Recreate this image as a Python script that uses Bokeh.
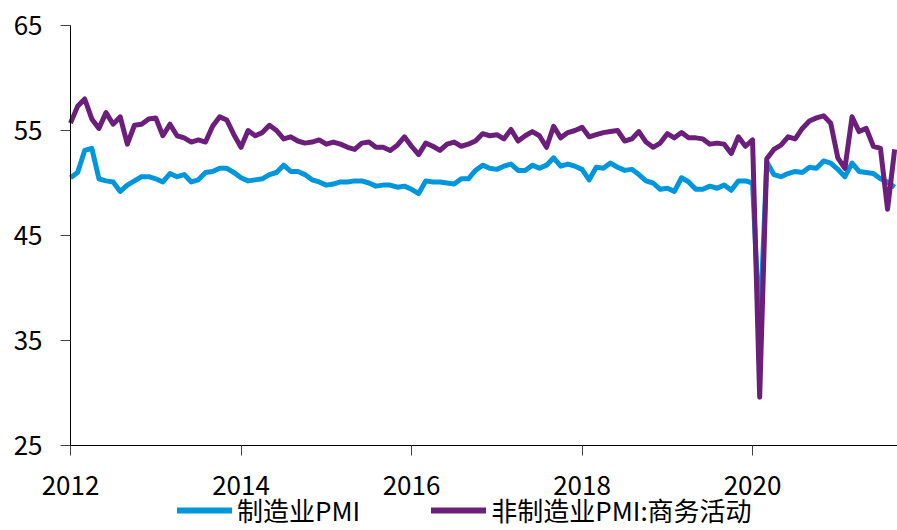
from bokeh.plotting import figure
from bokeh.models import Range1d, FixedTicker, Legend, LegendItem, ColumnDataSource
from bokeh.embed import file_html
from bokeh.resources import INLINE

# Monthly data, Jan 2012 .. Sep 2021
start_year = 2012
manufacturing_pmi = [
    50.5, 51.0, 53.1, 53.3, 50.4, 50.2, 50.1, 49.2, 49.8, 50.2, 50.6, 50.6,  # 2012
    50.4, 50.1, 50.9, 50.6, 50.8, 50.1, 50.3, 51.0, 51.1, 51.4, 51.4, 51.0,  # 2013
    50.5, 50.2, 50.3, 50.4, 50.8, 51.0, 51.7, 51.1, 51.1, 50.8, 50.3, 50.1,  # 2014
    49.8, 49.9, 50.1, 50.1, 50.2, 50.2, 50.0, 49.7, 49.8, 49.8, 49.6, 49.7,  # 2015
    49.4, 49.0, 50.2, 50.1, 50.1, 50.0, 49.9, 50.4, 50.4, 51.2, 51.7, 51.4,  # 2016
    51.3, 51.6, 51.8, 51.2, 51.2, 51.7, 51.4, 51.7, 52.4, 51.6, 51.8, 51.6,  # 2017
    51.3, 50.3, 51.5, 51.4, 51.9, 51.5, 51.2, 51.3, 50.8, 50.2, 50.0, 49.4,  # 2018
    49.5, 49.2, 50.5, 50.1, 49.4, 49.4, 49.7, 49.5, 49.8, 49.3, 50.2, 50.2,  # 2019
    50.0, 35.7, 52.0, 50.8, 50.6, 50.9, 51.1, 51.0, 51.5, 51.4, 52.1, 51.9,  # 2020
    51.3, 50.6, 51.9, 51.1, 51.0, 50.9, 50.4, 50.1, 49.6,                    # 2021
]
non_manufacturing_business = [
    55.7, 57.3, 58.0, 56.1, 55.2, 56.7, 55.6, 56.3, 53.7, 55.5, 55.6, 56.1,  # 2012
    56.2, 54.5, 55.6, 54.5, 54.3, 53.9, 54.1, 53.9, 55.4, 56.3, 56.0, 54.6,  # 2013
    53.4, 55.0, 54.5, 54.8, 55.5, 55.0, 54.2, 54.4, 54.0, 53.8, 53.9, 54.1,  # 2014
    53.7, 53.9, 53.7, 53.4, 53.2, 53.8, 53.9, 53.4, 53.4, 53.1, 53.6, 54.4,  # 2015
    53.5, 52.7, 53.8, 53.5, 53.1, 53.7, 53.9, 53.5, 53.7, 54.0, 54.7, 54.5,  # 2016
    54.6, 54.2, 55.1, 54.0, 54.5, 54.9, 54.5, 53.4, 55.4, 54.3, 54.8, 55.0,  # 2017
    55.3, 54.4, 54.6, 54.8, 54.9, 55.0, 54.0, 54.2, 54.9, 53.9, 53.4, 53.8,  # 2018
    54.7, 54.3, 54.8, 54.3, 54.3, 54.2, 53.7, 53.8, 53.7, 52.8, 54.4, 53.5,  # 2019
    54.1, 29.6, 52.3, 53.2, 53.6, 54.4, 54.2, 55.2, 55.9, 56.2, 56.4, 55.7,  # 2020
    52.4, 51.4, 56.3, 54.9, 55.2, 53.5, 53.3, 47.5, 53.2,                    # 2021
]
series_names = ["制造业PMI", "非制造业PMI:商务活动"]
series_colors = ["#0096DC", "#6C1F7A"]
x_ticks = [2012, 2014, 2016, 2018, 2020]
y_ticks = [25, 35, 45, 55, 65]

months = [start_year + i / 12 for i in range(len(manufacturing_pmi))]
src = ColumnDataSource(dict(x=months, m=manufacturing_pmi, n=non_manufacturing_business))

FONT = "Noto Sans CJK SC"

# Layout: the frame fills the whole canvas; the axes are pinned at x=2012 / y=25.
# Axis box: x 70..897 px for 2012..2021.7, y 25..445 px for 65..25.
X0, X1 = 2012, 2021.7
Y0, Y1 = 25, 65
px_x = (897 - 70) / (X1 - X0)
px_y = (445 - 25) / (Y1 - Y0)
x_range = Range1d(X0 - 70 / px_x, X1)
y_range = Range1d(Y0 - (530 - 445) / px_y, Y1 + 25 / px_y)

p = figure(width=897, height=530, output_backend="svg", toolbar_location=None,
           x_range=x_range, y_range=y_range,
           min_border_left=0, min_border_right=0, min_border_top=0, min_border_bottom=0)
p.outline_line_color = None
p.xgrid.grid_line_color = None
p.ygrid.grid_line_color = None
p.background_fill_color = "white"
p.border_fill_color = "white"

p.line("x", "m", source=src, line_color=series_colors[0], line_width=5, line_join="round")
p.line("x", "n", source=src, line_color=series_colors[1], line_width=5, line_join="round")

for ax in (p.xaxis[0], p.yaxis[0]):
    ax.axis_line_color = "black"
    ax.axis_line_width = 1
    ax.major_tick_line_color = "#404040"
    ax.major_tick_out = 10
    ax.major_tick_in = 0
    ax.minor_tick_line_color = None
    ax.major_label_text_font = FONT
    ax.major_label_text_font_size = "26px"
    ax.major_label_text_color = "black"
p.xaxis.major_label_standoff = 20
p.yaxis.major_label_standoff = 18
p.xaxis.ticker = FixedTicker(ticks=x_ticks)
p.yaxis.ticker = FixedTicker(ticks=y_ticks)
p.yaxis.bounds = (Y0, Y1)
p.xaxis.bounds = (X0, X1)
p.xaxis.fixed_location = Y0
p.yaxis.fixed_location = X0

dummy = ColumnDataSource(dict(x=[1990.0], y=[-50.0]))
l1 = p.line("x", "y", source=dummy, line_color=series_colors[0], line_width=6, line_cap="round")
l2 = p.line("x", "y", source=dummy, line_color=series_colors[1], line_width=6, line_cap="round")

legend = Legend(items=[LegendItem(label=series_names[0], renderers=[l1]),
                       LegendItem(label=series_names[1], renderers=[l2])],
                orientation="horizontal", location=(177, 2),
                label_text_font=FONT, label_text_font_size="26px", label_text_color="black",
                glyph_width=55, glyph_height=20, label_standoff=5, spacing=71,
                padding=0, margin=0, border_line_color=None, background_fill_alpha=0)
p.add_layout(legend, "center")

open("out.html", "w").write(file_html(p, INLINE))
